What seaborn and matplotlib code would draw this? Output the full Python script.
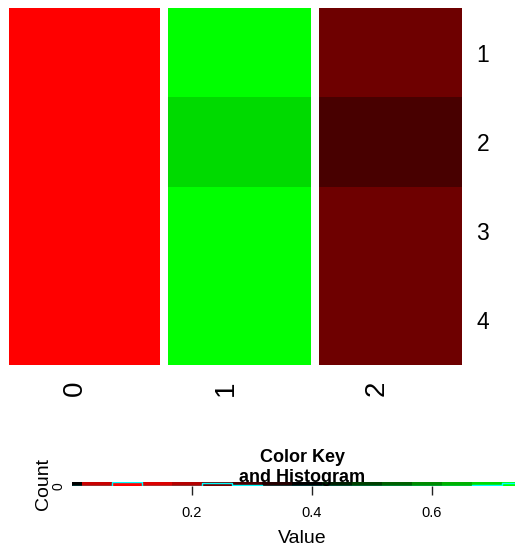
import numpy as np
import pandas as pd
import matplotlib
matplotlib.use("Agg")
import matplotlib.pyplot as plt
from matplotlib.colors import ListedColormap, BoundaryNorm
from matplotlib.transforms import ScaledTranslation
import seaborn as sns

# Matrix values: one list per column, rows 1..4
row_labels = ["1", "2", "3", "4"]
col_labels = ["0", "1", "2"]
col0 = [0.09, 0.09, 0.09, 0.09]
col1 = [0.74, 0.69, 0.74, 0.74]
col2 = [0.24, 0.29, 0.24, 0.24]

# Colour key: break points and the colour of each bin
key_breaks = [0.0, 0.0167, 0.0667, 0.1167, 0.1667, 0.2167, 0.2667, 0.3167,
              0.3667, 0.4167, 0.4667, 0.5167, 0.5667, 0.6167, 0.6667,
              0.7167, 0.7667]
key_colors = ["#000000", "#c80000", "#ff0000", "#dc0000", "#b40000",
              "#6e0000", "#480000", "#240000", "#000000", "#002000",
              "#004000", "#006000", "#008a00", "#00b000", "#00da00",
              "#00ff00"]
key_ticks = [0.2, 0.4, 0.6]
key_tick_labels = ["0.2", "0.4", "0.6"]

sns.set_theme(style="white")
plt.rcParams["font.family"] = ["Liberation Sans", "DejaVu Sans"]
plt.rcParams.update({"text.color": "black", "axes.labelcolor": "black",
                     "xtick.color": "black", "ytick.color": "black"})

W, H = 515, 550
fig = plt.figure(figsize=(W / 100, H / 100), dpi=100)


def box(x0, y0, x1, y1):
    return [x0 / W, 1 - y1 / H, (x1 - x0) / W, (y1 - y0) / H]


cmap = ListedColormap(key_colors)
norm = BoundaryNorm(key_breaks, cmap.N)

# Heatmap
ax = fig.add_axes(box(9, 8, 462, 365))
df = pd.DataFrame({c: v for c, v in zip(col_labels, [col0, col1, col2])},
                  index=row_labels)
sns.heatmap(df, cmap=cmap, norm=norm, cbar=False, ax=ax,
            xticklabels=True, yticklabels=True)

# white separators between columns
sep = 8 / 151
for b in range(1, len(col_labels)):
    ax.axvspan(b, b + sep, color="white", lw=0, zorder=3)

ax.yaxis.tick_right()
ax.tick_params(axis="y", length=0, pad=10.5, labelsize=16.5, labelrotation=0)
ax.tick_params(axis="x", length=0, pad=11.5, labelsize=20, labelrotation=90)
for lbl in ax.get_xticklabels():
    lbl.set_transform(lbl.get_transform()
                      + ScaledTranslation(-10 / 100, 0, fig.dpi_scale_trans))
ax.set_xlabel("")
ax.set_ylabel("")

# Colour key with histogram
kax = fig.add_axes(box(72, 482, 532, 486))
centers = [(a + b) / 2 for a, b in zip(key_breaks[:-1], key_breaks[1:])]
kax.pcolormesh(key_breaks, [0, 1], np.array([centers]), cmap=cmap, norm=norm)
vals = np.array(col0 + col1 + col2)
counts, _ = np.histogram(vals, bins=key_breaks)
hy = np.append(counts, counts[-1]) / counts.max() * 0.95
kax.step(key_breaks, hy, where="post", color="cyan", lw=1)
kax.set_xlim(key_breaks[0], key_breaks[-1])
kax.set_ylim(0, 1)
for s in kax.spines.values():
    s.set_visible(False)
kax.set_xticks(key_ticks)
kax.set_xticklabels(key_tick_labels)
kax.tick_params(axis="x", bottom=True, length=6.5, width=1, color="#222222",
                pad=8, labelsize=10.5)
kax.set_yticks([0])
kax.set_yticklabels(["0"], rotation=90, va="center")
kax.tick_params(axis="y", left=True, length=0, pad=5, labelsize=10)
kax.set_xlabel("Value", fontsize=14, labelpad=7)
kax.set_ylabel("Count", fontsize=14, labelpad=-1)
kax.set_title("Color Key\nand Histogram", fontsize=13, fontweight="bold",
              pad=0, linespacing=1.22)

fig.savefig("out.png", dpi=100)
